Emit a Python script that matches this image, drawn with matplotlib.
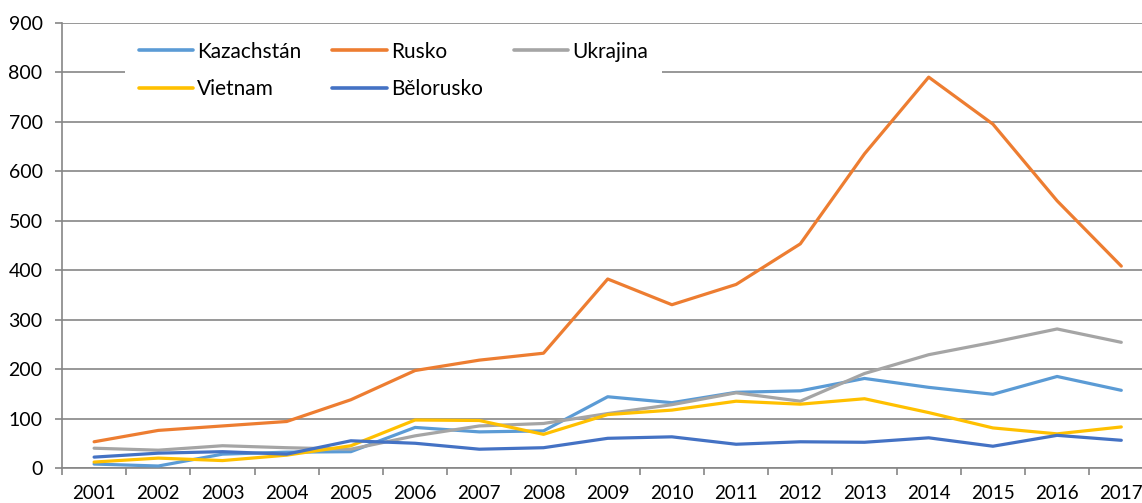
import matplotlib
matplotlib.use('Agg')
import matplotlib.pyplot as plt
import numpy as np

plt.rcParams['font.family'] = ['Lato', 'DejaVu Sans']

# data
years = ['2001', '2002', '2003', '2004', '2005', '2006', '2007', '2008', '2009',
         '2010', '2011', '2012', '2013', '2014', '2015', '2016', '2017']
kazachstan = [8, 4, 28, 32, 33, 82, 73, 75, 144, 132, 153, 156, 181, 163, 149, 185, 157]
rusko = [53, 76, 85, 94, 138, 197, 218, 232, 382, 330, 371, 453, 635, 790, 695, 540, 408]
ukrajina = [40, 36, 45, 41, 38, 65, 85, 90, 110, 128, 152, 135, 191, 229, 254, 281, 254]
vietnam = [12, 20, 15, 26, 45, 97, 96, 68, 108, 117, 135, 129, 140, 112, 81, 69, 83]
belorusko = [22, 30, 33, 28, 55, 50, 38, 41, 60, 63, 48, 53, 52, 61, 44, 66, 56]

series = [
    ('Kazachstán', kazachstan, '#5B9BD5'),
    ('Rusko', rusko, '#ED7D31'),
    ('Ukrajina', ukrajina, '#A5A5A5'),
    ('Vietnam', vietnam, '#FFC000'),
    ('Bělorusko', belorusko, '#4472C4'),
]

W, H = 1142, 503
fig = plt.figure(figsize=(W / 100, H / 100), dpi=100)
# axes runs a little past the right edge, like the cropped original
ax = fig.add_axes([62 / W, 35 / H, 17 * 64.2 / W, 445.3 / H])

x = np.arange(len(years))
lines = {}
for name, vals, col in series:
    ln, = ax.plot(x, vals, color=col, lw=2.3, label=name, solid_capstyle='round',
                  solid_joinstyle='round', zorder=3)
    lines[name] = ln

grey = '#868686'
ax.set_xlim(-0.5, len(years) - 0.5)
ax.set_ylim(0, 900)
ax.set_yticks(range(0, 901, 100))
ax.yaxis.grid(True, color=grey, lw=1.2)
ax.set_axisbelow(True)

for s in ['top', 'right']:
    ax.spines[s].set_visible(False)
for s in ['left', 'bottom']:
    ax.spines[s].set_color(grey)
    ax.spines[s].set_linewidth(1.2)

# category ticks sit between the years, labels in the middle
ax.set_xticks(np.arange(-0.5, len(years), 1))
ax.set_xticklabels([])
ax.set_xticks(x, minor=True)
ax.set_xticklabels(years, minor=True)
ax.tick_params(axis='x', which='major', length=5, width=1.2, color=grey)
ax.tick_params(axis='x', which='minor', length=0, pad=12, labelsize=13.5)
ax.tick_params(axis='y', length=5, width=1.2, color=grey, pad=9, labelsize=14)

order = ['Kazachstán', 'Vietnam', 'Rusko', 'Bělorusko', 'Ukrajina']
leg = ax.legend([lines[n] for n in order], order, ncol=3, loc='upper left',
                bbox_to_anchor=(125 / W, 1 - 28 / H), bbox_transform=fig.transFigure,
                borderaxespad=0, borderpad=0.65, fontsize=15, frameon=True,
                fancybox=False, edgecolor='none', facecolor='white', framealpha=1,
                handlelength=2.6, handletextpad=0.2, columnspacing=1.5,
                labelspacing=0.85)
for h in leg.get_lines():
    h.set_linewidth(2.6)

fig.savefig('out.png', dpi=100)
